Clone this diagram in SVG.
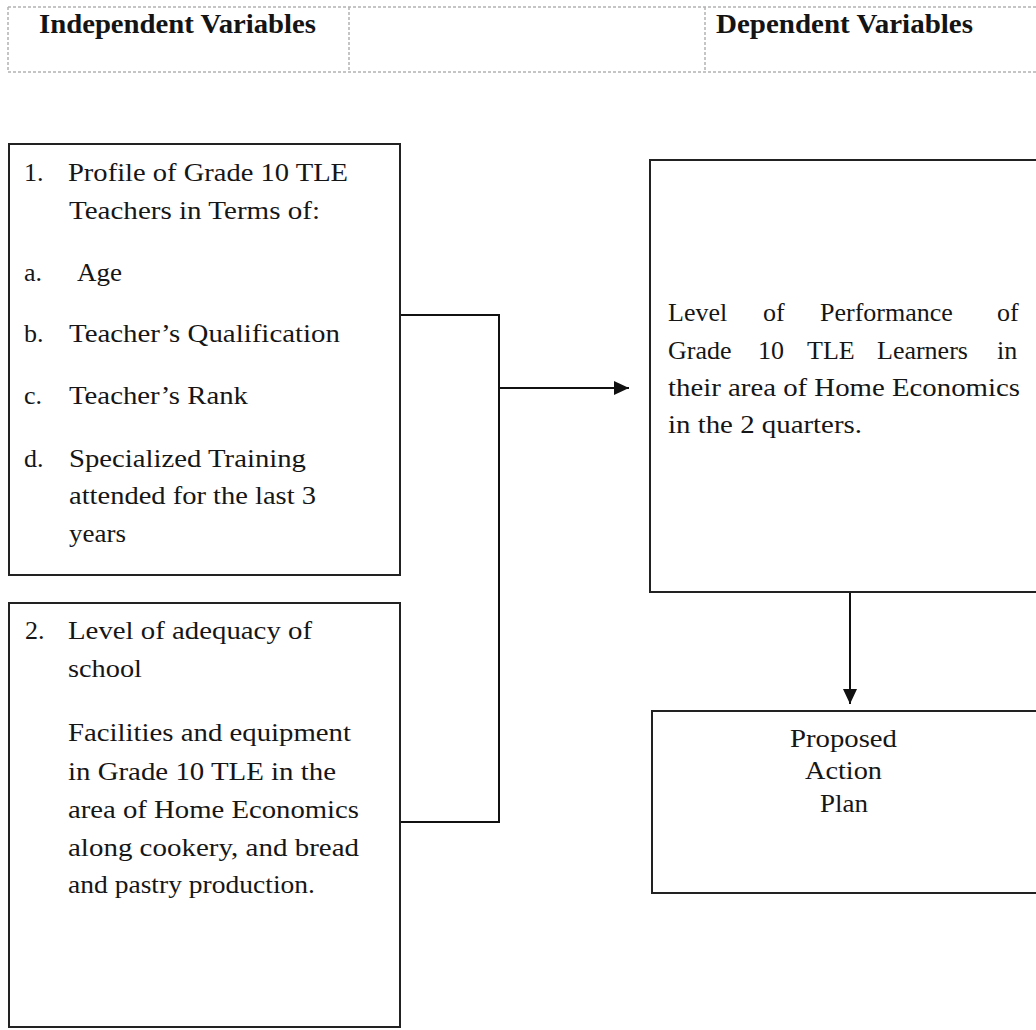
<svg xmlns="http://www.w3.org/2000/svg" width="1036" height="1030" viewBox="0 0 1036 1030">
<style>
  .bg{fill:#ffffff}
  .hdr{fill:none;stroke:#b3b3b3;stroke-width:1.5;stroke-dasharray:3 2}
  .box{fill:#ffffff;stroke:#222222;stroke-width:2}
  .con{fill:none;stroke:#111111;stroke-width:2}
  .t{font-family:'Liberation Serif',serif;font-size:26px;fill:#161616}
  .h{font-family:'Liberation Serif',serif;font-size:27px;font-weight:bold;fill:#141414}
</style>
<defs>
  <marker id="arrow" markerUnits="userSpaceOnUse" markerWidth="15" markerHeight="14" refX="15" refY="7" orient="auto">
    <path d="M0,0 L15,7 L0,14 z" fill="#111111"/>
  </marker>
</defs>
<rect class="bg" x="0" y="0" width="1036" height="1030"/>

<g id="header">
  <path class="hdr" d="M8,7 H1036 M8,72 H1036 M8,7 V72 M349,7 V72 M705,7 V72"/>
  <text class="h" x="39" y="33" textLength="277" lengthAdjust="spacingAndGlyphs">Independent Variables</text>
  <text class="h" x="716" y="33" textLength="257" lengthAdjust="spacingAndGlyphs">Dependent Variables</text>
</g>

<g id="connectors">
  <path class="con" d="M400,315 H499 V822 H400"/>
  <line class="con" x1="499" y1="388" x2="629" y2="388" marker-end="url(#arrow)"/>
  <line class="con" x1="850" y1="592" x2="850" y2="704" marker-end="url(#arrow)"/>
</g>

<g id="node-profile">
  <rect class="box" x="9" y="144" width="391" height="431"/>
  <text class="t" x="24" y="181">1.</text>
  <text class="t" x="68" y="181" textLength="280" lengthAdjust="spacingAndGlyphs">Profile of Grade 10 TLE</text>
  <text class="t" x="69" y="219" textLength="251" lengthAdjust="spacingAndGlyphs">Teachers in Terms of:</text>
  <text class="t" x="24" y="281">a.</text>
  <text class="t" x="77" y="281" textLength="45" lengthAdjust="spacingAndGlyphs">Age</text>
  <text class="t" x="24" y="342">b.</text>
  <text class="t" x="69" y="342" textLength="271" lengthAdjust="spacingAndGlyphs">Teacher’s Qualification</text>
  <text class="t" x="24" y="404">c.</text>
  <text class="t" x="69" y="404" textLength="179" lengthAdjust="spacingAndGlyphs">Teacher’s Rank</text>
  <text class="t" x="24" y="467">d.</text>
  <text class="t" x="69" y="467" textLength="237" lengthAdjust="spacingAndGlyphs">Specialized Training</text>
  <text class="t" x="69" y="504" textLength="247" lengthAdjust="spacingAndGlyphs">attended for the last 3</text>
  <text class="t" x="69" y="542" textLength="57" lengthAdjust="spacingAndGlyphs">years</text>
</g>

<g id="node-adequacy">
  <rect class="box" x="9" y="603" width="391" height="424"/>
  <text class="t" x="25" y="639">2.</text>
  <text class="t" x="68" y="639" textLength="244" lengthAdjust="spacingAndGlyphs">Level of adequacy of</text>
  <text class="t" x="68" y="677" textLength="74" lengthAdjust="spacingAndGlyphs">school</text>
  <text class="t" x="68" y="741" textLength="283" lengthAdjust="spacingAndGlyphs">Facilities and equipment</text>
  <text class="t" x="68" y="780" textLength="268" lengthAdjust="spacingAndGlyphs">in Grade 10 TLE in the</text>
  <text class="t" x="68" y="818" textLength="291" lengthAdjust="spacingAndGlyphs">area of Home Economics</text>
  <text class="t" x="68" y="856" textLength="291" lengthAdjust="spacingAndGlyphs">along cookery, and bread</text>
  <text class="t" x="68" y="893" textLength="247" lengthAdjust="spacingAndGlyphs">and pastry production.</text>
</g>

<g id="node-performance">
  <rect class="box" x="650" y="160" width="400" height="432"/>
  <text class="t" y="321"><tspan x="668">Level</tspan><tspan x="763">of</tspan><tspan x="820">Performance</tspan><tspan x="997">of</tspan></text>
  <text class="t" y="359"><tspan x="668">Grade</tspan><tspan x="758">10</tspan><tspan x="807">TLE</tspan><tspan x="877">Learners</tspan><tspan x="997">in</tspan></text>
  <text class="t" x="668" y="396" textLength="352" lengthAdjust="spacingAndGlyphs">their area of Home Economics</text>
  <text class="t" x="668" y="433" textLength="194" lengthAdjust="spacingAndGlyphs">in the 2 quarters.</text>
</g>

<g id="node-action-plan">
  <rect class="box" x="652" y="711" width="400" height="182"/>
  <text class="t" x="790" y="747" textLength="107" lengthAdjust="spacingAndGlyphs">Proposed</text>
  <text class="t" x="805" y="779" textLength="77" lengthAdjust="spacingAndGlyphs">Action</text>
  <text class="t" x="820" y="812" textLength="48" lengthAdjust="spacingAndGlyphs">Plan</text>
</g>
</svg>
